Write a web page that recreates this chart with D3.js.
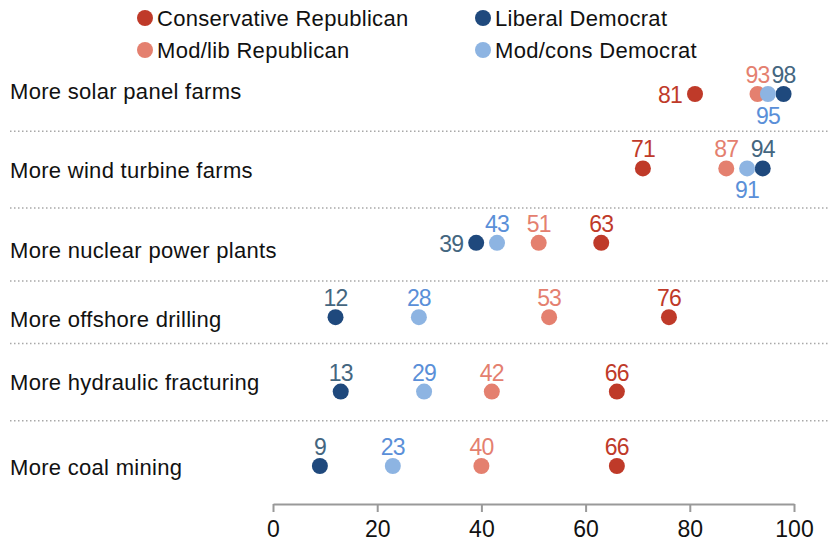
<!DOCTYPE html>
<html><head><meta charset="utf-8">
<script src="https://cdn.jsdelivr.net/npm/d3@7"></script>
<style>body{margin:0;background:#fff;} svg{display:block;font-family:"Liberation Sans",Arial,sans-serif;}</style>
</head><body><svg id="c" width="832" height="544"></svg>
<script>
const categories = ["More solar panel farms","More wind turbine farms","More nuclear power plants","More offshore drilling","More hydraulic fracturing","More coal mining"];
const seriesNames = ["Conservative Republican","Mod/lib Republican","Liberal Democrat","Mod/cons Democrat"];
const consRep   = [81,71,63,76,66,66];
const modLibRep = [93,87,51,53,42,40];
const libDem    = [98,94,39,12,13,9];
const modConsDem= [95,91,43,28,29,23];
const tickValues = [0,20,40,60,80,100];
// label placement per series per row (a=above,b=below,l=left)
const consRepPos   = ["l","a","a","a","a","a"];
const modLibRepPos = ["a","a","a","a","a","a"];
const libDemPos    = ["a","a","l","a","a","a"];
const modConsDemPos= ["b","b","a","a","a","a"];

const dotColors  = ["#bf3a29","#e4806f","#1f497d","#8db4e2"];
const textColors = ["#bf3a29","#e4806f","#44667f","#5a8fd8"];
const labelDy = [-3,2,7,2,-9,1];
const dividerDy = [0,2.5,1,-11,-8];

const svg = d3.select("#c");
const x = d3.scaleLinear().domain([0,100]).range([273,794]);
const y = d3.scalePoint().domain(categories).range([94,466]);
const step = y.step();

// dividers
categories.slice(0,-1).forEach((c,i)=>{
  const yy = y(c)+step/2+dividerDy[i];
  svg.append("line").attr("x1",10).attr("x2",830).attr("y1",yy).attr("y2",yy)
    .attr("stroke","#a8a8a8").attr("stroke-width",1.5).attr("stroke-dasharray","1.5,2.5");
});

// row labels
svg.selectAll("text.cat").data(categories).join("text").attr("class","cat")
  .attr("x",10).attr("y",(d,i)=>y(d)+labelDy[i]).attr("dy","0.35em")
  .attr("font-size",22).attr("letter-spacing","0.3px").attr("fill","#111").text(d=>d);

// axis
const axis = svg.append("g").attr("transform","translate(0,504)")
  .call(d3.axisBottom(x).tickValues(tickValues).tickSize(8).tickPadding(9).tickSizeOuter(0));
axis.select(".domain").attr("stroke","#999").attr("stroke-width",2);
axis.selectAll(".tick line").attr("stroke","#999").attr("stroke-width",2);
axis.selectAll(".tick text").attr("font-size",23).attr("fill","#111").attr("font-family","Liberation Sans,Arial,sans-serif");

const series = [[consRep,consRepPos],[modLibRep,modLibRepPos],[libDem,libDemPos],[modConsDem,modConsDemPos]];
series.forEach(([vals,pos],si)=>{
  const g = svg.append("g");
  g.selectAll("circle").data(vals).join("circle")
    .attr("cx",d=>x(d)).attr("cy",(d,i)=>y(categories[i])).attr("r",8)
    .attr("fill",dotColors[si]);
});
series.forEach(([vals,pos],si)=>{
  svg.append("g").selectAll("text").data(vals).join("text")
    .attr("x",(d,i)=>pos[i]==="l"? x(d)-13 : x(d))
    .attr("y",(d,i)=>{const cy=y(categories[i]); return pos[i]==="a"? cy-11 : pos[i]==="b"? cy+30 : cy+9;})
    .attr("text-anchor",(d,i)=>pos[i]==="l"?"end":"middle")
    .attr("font-size",23).attr("letter-spacing","-0.8px").attr("fill",textColors[si]).text(d=>d);
});

// legend
const legPos = [[145,18],[145,50],[483,18],[483,50]];
seriesNames.forEach((n,i)=>{
  svg.append("circle").attr("cx",legPos[i][0]).attr("cy",legPos[i][1]).attr("r",8).attr("fill",dotColors[i]);
  svg.append("text").attr("x",legPos[i][0]+12).attr("y",legPos[i][1]).attr("dy","0.35em")
    .attr("font-size",22).attr("letter-spacing","0.3px").attr("fill","#111").text(n);
});
</script></body></html>
